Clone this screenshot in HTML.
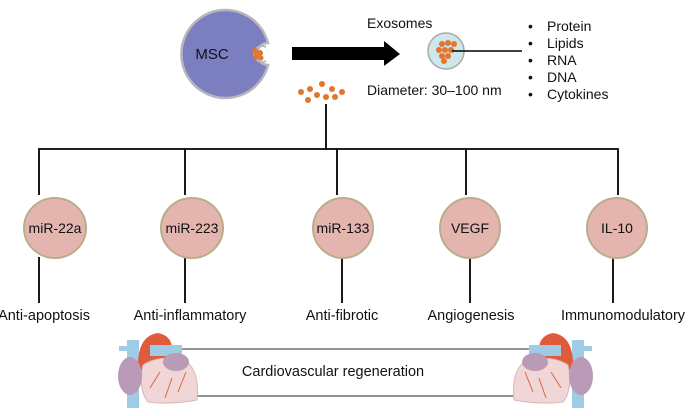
<!DOCTYPE html>
<html><head><meta charset="utf-8"><style>
body{margin:0;background:#fff;}
svg{display:block;font-family:"Liberation Sans",Arial,sans-serif;}
</style></head><body>
<svg width="693" height="416" viewBox="0 0 693 416">
<!-- MSC -->
<path d="M268,43 A44,44 0 1 0 268,65 A11,11 0 0 1 268,43 Z" fill="#7b7fc0" stroke="#b7b5bd" stroke-width="2.5"/>
<path d="M266,47 A8,8 0 1 0 266,61" fill="none" stroke="#b7b5bd" stroke-width="2"/>
<circle cx="255" cy="51" r="3" fill="#e2762c"/><circle cx="260" cy="53" r="3" fill="#e2762c"/><circle cx="256" cy="57" r="3" fill="#e2762c"/><circle cx="261" cy="58" r="2.5" fill="#e2762c"/>
<text x="212" y="59" font-size="15" fill="#111" text-anchor="middle">MSC</text>
<!-- arrow -->
<polygon points="292,47 384,47 384,41 400,54 384,66 384,60 292,60" fill="#000"/>
<text x="367" y="28" font-size="14" fill="#111">Exosomes</text>
<text x="367" y="95" font-size="14" fill="#111">Diameter: 30–100 nm</text>
<!-- exosome -->
<circle cx="446" cy="51" r="18" fill="#cfe6ea" stroke="#a9a9a9" stroke-width="1.5"/>
<g fill="#e2762c"><circle cx="442" cy="44" r="3"/><circle cx="448" cy="43" r="3"/><circle cx="454" cy="44" r="3"/><circle cx="439" cy="50" r="3"/><circle cx="445" cy="50" r="3"/><circle cx="451" cy="50" r="3"/><circle cx="442" cy="56" r="3"/><circle cx="448" cy="56" r="3"/><circle cx="444" cy="61" r="3"/></g>
<line x1="452" y1="51" x2="522" y2="51" stroke="#000" stroke-width="1.5"/>
<g font-size="14" fill="#111">
<text x="528" y="31">•</text><text x="547" y="31">Protein</text>
<text x="528" y="48">•</text><text x="547" y="48">Lipids</text>
<text x="528" y="65">•</text><text x="547" y="65">RNA</text>
<text x="528" y="82">•</text><text x="547" y="82">DNA</text>
<text x="528" y="99">•</text><text x="547" y="99">Cytokines</text>
</g>
<!-- dots -->
<g fill="#e2762c"><circle cx="322" cy="84" r="3"/><circle cx="310" cy="89" r="3"/><circle cx="332" cy="89" r="3"/><circle cx="301" cy="92" r="3"/><circle cx="342" cy="92" r="3"/><circle cx="317" cy="95" r="3"/><circle cx="326" cy="97" r="3"/><circle cx="335" cy="97" r="3"/><circle cx="308" cy="100" r="3"/></g>
<g stroke="#000" stroke-width="1.8" fill="none">
<line x1="326" y1="104" x2="326" y2="149"/>
<polyline points="39,195 39,149 618,149 618,195"/>
<line x1="185" y1="149" x2="185" y2="195"/>
<line x1="337" y1="149" x2="337" y2="195"/>
<line x1="466" y1="149" x2="466" y2="195"/>
<line x1="39" y1="257" x2="39" y2="303"/>
<line x1="185" y1="257" x2="185" y2="303"/>
<line x1="342" y1="257" x2="342" y2="303"/>
<line x1="470" y1="257" x2="470" y2="303"/>
<line x1="613" y1="257" x2="613" y2="303"/>
</g>
<g fill="#e4b5ae" stroke="#b9ad8a" stroke-width="2">
<ellipse cx="55" cy="228" rx="31" ry="30"/>
<ellipse cx="192" cy="228" rx="31" ry="30"/>
<ellipse cx="343" cy="228" rx="30" ry="30"/>
<ellipse cx="470" cy="228" rx="30" ry="30"/>
<ellipse cx="617" cy="228" rx="30" ry="30"/>
</g>
<g font-size="14" fill="#111" text-anchor="middle">
<text x="55" y="233">miR-22a</text>
<text x="192" y="233">miR-223</text>
<text x="343" y="233">miR-133</text>
<text x="470" y="233">VEGF</text>
<text x="617" y="233">IL-10</text>
</g>
<g font-size="14.5" fill="#111" text-anchor="middle">
<text x="44" y="320">Anti-apoptosis</text>
<text x="190" y="320">Anti-inflammatory</text>
<text x="342" y="320">Anti-fibrotic</text>
<text x="471" y="320">Angiogenesis</text>
<text x="623" y="320">Immunomodulatory</text>
<text x="333" y="376">Cardiovascular regeneration</text>
</g>
<g stroke="#555" stroke-width="1.3">
<line x1="180" y1="349" x2="530" y2="349"/>
<line x1="195" y1="396" x2="520" y2="396"/>
</g>
<!-- left heart -->
<g id="h">
<rect x="127" y="340" width="12" height="68" fill="#9fcbe4"/>
<rect x="119" y="346" width="14" height="5" fill="#9fcbe4"/>
<path d="M138,372 Q136,336 158,333 Q174,336 172,354 L160,362 Z" fill="#e05a3c"/>
<rect x="150" y="345" width="32" height="11" fill="#9fcbe4"/>
<path d="M143,365 Q160,354 186,361 Q200,372 197,400 Q170,405 148,402 Q138,390 143,365 Z" fill="#f0d6d6" stroke="#d8b8b8"/>
<ellipse cx="130" cy="376" rx="12" ry="19" fill="#b99bb8"/>
<ellipse cx="176" cy="362" rx="13" ry="9" fill="#b99bb8"/>
<path d="M150,388 L160,372 M165,398 L172,378 M178,392 L186,372" stroke="#d86a40" stroke-width="1" fill="none"/>
</g>
<!-- right heart -->
<g transform="translate(711,0) scale(-1,1)">
<rect x="127" y="340" width="12" height="68" fill="#9fcbe4"/>
<rect x="119" y="346" width="14" height="5" fill="#9fcbe4"/>
<path d="M138,372 Q136,336 158,333 Q174,336 172,354 L160,362 Z" fill="#e05a3c"/>
<rect x="150" y="345" width="32" height="11" fill="#9fcbe4"/>
<path d="M143,365 Q160,354 186,361 Q200,372 197,400 Q170,405 148,402 Q138,390 143,365 Z" fill="#f0d6d6" stroke="#d8b8b8"/>
<ellipse cx="130" cy="376" rx="12" ry="19" fill="#b99bb8"/>
<ellipse cx="176" cy="362" rx="13" ry="9" fill="#b99bb8"/>
<path d="M150,388 L160,372 M165,398 L172,378 M178,392 L186,372" stroke="#d86a40" stroke-width="1" fill="none"/>
</g>
</svg>
</body></html>
